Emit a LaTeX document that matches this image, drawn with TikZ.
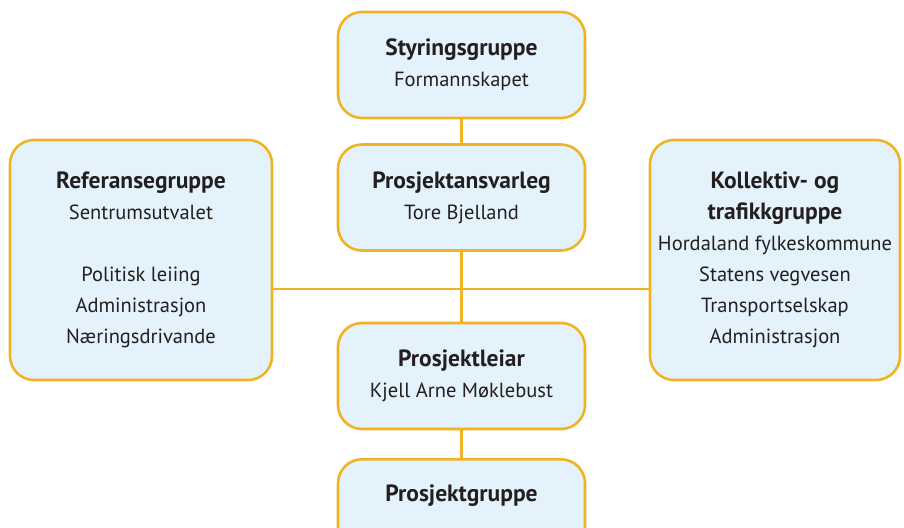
\documentclass[tikz,border=0pt]{standalone}
\usepackage{fontspec}
\setmainfont{PT Sans}
\definecolor{boxline}{HTML}{F0B323}
\definecolor{boxfill}{HTML}{E4F3FB}
\definecolor{ink}{HTML}{231F20}
\newcommand{\boxhead}[1]{{\fontsize{23.5}{31}\selectfont\bfseries #1}}
\tikzset{
  box/.style={draw=boxline, fill=boxfill, line width=2.6pt, rounded corners=24pt,
    minimum width=247pt, minimum height=106pt, inner sep=4pt, align=center,
    text=ink, font=\fontsize{20.5}{31}\selectfont},
  bigbox/.style={box, minimum height=240pt},
  link/.style={draw=boxline, line width=2.6pt}
}

\begin{document}
\begin{tikzpicture}[x=1pt, y=-1pt]
\clip (0,0) rectangle (904,527);
\node[box] (styr) at (461.5,65) {\boxhead{Styringsgruppe}\\Formannskapet};
\node[box] (ansv) at (461.5,197.5) {\boxhead{Prosjektansvarleg}\\Tore Bjelland};
\node[box] (leiar) at (461.5,376) {\boxhead{Prosjektleiar}\\Kjell Arne Møklebust};
\node[box, anchor=north, minimum height=0pt, text height=38pt, text depth=60pt] (gruppe) at (461.5,458) {\boxhead{Prosjektgruppe}};
\node[bigbox, minimum width=262pt] (ref) at (141,260)
  {\boxhead{Referansegruppe}\\Sentrumsutvalet\\[31pt]Politisk leiing\\Administrasjon\\Næringsdrivande};
\node[bigbox, minimum width=250pt] (koll) at (775,260)
  {\boxhead{Kollektiv- og}\\\boxhead{trafikkgruppe}\\Hordaland fylkeskommune\\Statens vegvesen\\Transportselskap\\Administrasjon};
\coordinate (hub) at (461.5,289);
% connectors
\draw[link] (styr.south) -- (ansv.north);
\draw[link] (ansv.south) -- (leiar.north);
\draw[link] (leiar.south) -- (gruppe.north);
\draw[link] (ref.east |- hub) -- (koll.west |- hub);
\end{tikzpicture}
\end{document}
